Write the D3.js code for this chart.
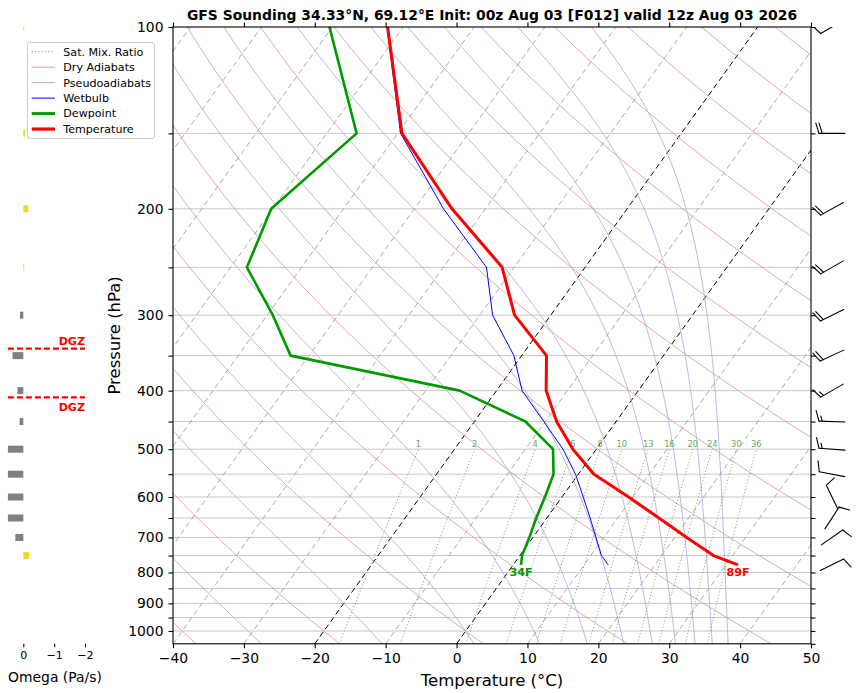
<!DOCTYPE html>
<html><head><meta charset="utf-8">
<script src="https://cdn.jsdelivr.net/npm/d3@7"></script>
<style>body{margin:0;background:#fff}svg{display:block;font-family:"DejaVu Sans",sans-serif}</style>
</head><body><svg id="c" width="857" height="693"></svg>
<script>
// ---------------- data ----------------
const pressure    = [100,150,200,250,300,350,400,450,500,550,600,650,700,750,777];
const temperature = [-72.2,-59.4,-44.7,-31.7,-25.1,-16.5,-13.0,-8.4,-3.3,2.2,9.4,15.8,21.7,27.3,31.7];
const dewpoint    = [-80.4,-65.8,-70.2,-67.7,-59.2,-52.6,-25.2,-12.8,-6.1,-3.5,-2.4,-1.5,-0.5,0.3,1.1];
const wetbulb     = [-72.3,-59.6,-45.9,-33.9,-28.2,-21.1,-16.4,-10.2,-4.7,-0.4,3.0,6.1,8.9,11.5,13.4];
const windPressure = [100,150,200,250,300,350,400,450,500,550,600,650,700,777];
const windSpeed    = [10,20,20,20,20,20,15,15,15,10,10,10,10,10];
const windDir      = [240,270,241,240,244,245,240,272,274,281,334,33,55,64];
const omegaPressure = [100,150,200,250,300,350,400,450,500,550,600,650,700,750];
const omegaValues   = [-0.03,-0.06,-0.16,-0.03,0.11,0.35,0.19,0.12,0.62,0.71,0.66,0.58,0.26,-0.19];
const mixingRatios = [1,2,4,6,8,10,13,16,20,24,30,36];
const pressureTicks = [100,200,300,400,500,600,700,800,900,1000];
const pressureMinor = [100,150,200,250,300,350,400,450,500,550,600,650,700,750,800,850,900,950,1000];
const tempTicks = [-40,-30,-20,-10,0,10,20,30,40,50];
const omegaTicks = [0,-1,-2];
const dgzBounds = [-12,-18];
const titleText = "GFS Sounding 34.33°N, 69.12°E Init: 00z Aug 03 [F012] valid 12z Aug 03 2026";

// ---------------- setup ----------------
const svg = d3.select("#c");
const X0=173, X1=811, YT=27, YB=643.8, SKEW=0.718;
const x = d3.scaleLinear().domain([-40,50]).range([X0,X1]);
const y = d3.scaleLog().domain([1050,100]).range([YB,YT]);
const sx = (T,p) => x(T) + SKEW*(YB - y(p));
const om = d3.scaleLinear().domain([0.5,-2]).range([7.9,85]);

const defs = svg.append("defs");
defs.append("clipPath").attr("id","plotclip").append("rect").attr("x",X0).attr("y",YT).attr("width",X1-X0).attr("height",YB-YT);
defs.append("clipPath").attr("id","omclip").append("rect").attr("x",7.9).attr("y",YT).attr("width",85-7.9).attr("height",YB-YT);
defs.append("clipPath").attr("id","barbclip").append("rect").attr("x",X1).attr("y",YT).attr("width",857-X1).attr("height",YB-YT);

const Rd=287.04, Cp=1005.7, Lv=2.501e6, EPS=0.622, KAPPA=Rd/Cp;
const es = T => 6.112*Math.exp(17.67*(T-273.15)/(T-29.65));
const plog = d3.range(0,121).map(i => 1050*Math.pow(100/1050, i/120));
const lineTP = d3.line().x(d=>sx(d[0],d[1])).y(d=>y(d[1]));

const bg = svg.append("g").attr("clip-path","url(#plotclip)");
// horizontal grid
bg.selectAll("line.grid").data(pressureMinor.filter(p=>p>100)).join("line")
  .attr("x1",X0).attr("x2",X1).attr("y1",d=>y(d)).attr("y2",d=>y(d))
  .attr("stroke","#c8c8c8").attr("stroke-width",1);

// isotherms
d3.range(-130,51,10).forEach(T=>{
  const black = (T===0||T===-20);
  bg.append("line").attr("x1",sx(T,1050)).attr("y1",y(1050)).attr("x2",sx(T,100)).attr("y2",y(100))
    .attr("stroke",black?"#000":"#a0a0a0").attr("stroke-width",black?1:0.9)
    .attr("stroke-dasharray","5.5,3.5");
});
// dry adiabats
d3.range(-40,321,20).forEach(th=>{
  const pts = plog.map(p=>[(th+273.15)*Math.pow(p/1000,KAPPA)-273.15,p]);
  bg.append("path").attr("d",lineTP(pts)).attr("fill","none").attr("stroke","#d99393").attr("stroke-width",0.8);
});
// pseudoadiabats (integrated downward from 100 hPa)
function dTdlnp(lnp,T){const p=Math.exp(lnp);const e=es(T);const rs=EPS*e/(p-e);
  return (Rd*T+Lv*rs)/(Cp+Lv*Lv*rs*EPS/(Rd*T*T));}
d3.range(-30,171,20).forEach(th=>{
  let T=(th+273.15)*Math.pow(0.1,KAPPA), lnp=Math.log(100);
  const n=240, h=(Math.log(1050)-lnp)/n; const pts=[[T-273.15,100]];
  for(let i=0;i<n;i++){
    const k1=dTdlnp(lnp,T),k2=dTdlnp(lnp+h/2,T+h*k1/2),k3=dTdlnp(lnp+h/2,T+h*k2/2),k4=dTdlnp(lnp+h,T+h*k3);
    T+=h*(k1+2*k2+2*k3+k4)/6; lnp+=h; pts.push([T-273.15,Math.exp(lnp)]);
  }
  bg.append("path").attr("d",lineTP(pts)).attr("fill","none").attr("stroke","#a6a6dd").attr("stroke-width",0.8);
});
// mixing ratio lines
const pmr = d3.range(0,41).map(i=>1050*Math.pow(500/1050,i/40));
mixingRatios.forEach(w=>{
  const pts = pmr.map(p=>{const e=(w/1000)*p/(EPS+w/1000);const l=Math.log(e/6.112);return [243.5*l/(17.67-l),p];});
  bg.append("path").attr("d",lineTP(pts)).attr("fill","none").attr("stroke","#3c993c").attr("stroke-opacity",0.85)
    .attr("stroke-width",0.9).attr("stroke-dasharray","1.1,2.2");
  const top = pts[pts.length-1];
  bg.append("text").attr("x",sx(top[0],500)).attr("y",y(500)-2).attr("text-anchor","middle")
    .attr("font-size","8.3px").attr("fill","#66aa66").text(w);
});

// profiles
const prof = svg.append("g").attr("clip-path","url(#plotclip)");
const mk = arr => pressure.map((p,i)=>[arr[i],p]);
prof.append("path").attr("d",lineTP(mk(wetbulb))).attr("fill","none").attr("stroke","#0000ff").attr("stroke-width",1);
prof.append("path").attr("d",lineTP(mk(dewpoint))).attr("fill","none").attr("stroke","#009900").attr("stroke-width",2.6).attr("stroke-linejoin","round");
prof.append("path").attr("d",lineTP(mk(temperature))).attr("fill","none").attr("stroke","#ff0000").attr("stroke-width",3).attr("stroke-linejoin","round");
const ns = pressure.length-1, psfc = pressure[ns];
const toF = c => Math.round(c*9/5+32)+"F";
svg.append("text").attr("x",sx(dewpoint[ns],psfc)).attr("y",y(psfc)+11).attr("text-anchor","middle")
  .attr("font-size","11.1px").attr("font-weight","bold").attr("fill","#009900").text(toF(dewpoint[ns]));
svg.append("text").attr("x",sx(temperature[ns],psfc)).attr("y",y(psfc)+11).attr("text-anchor","middle")
  .attr("font-size","11.1px").attr("font-weight","bold").attr("fill","#ff0000").text(toF(temperature[ns]));

// frame & axes
svg.append("rect").attr("x",X0).attr("y",YT).attr("width",X1-X0).attr("height",YB-YT)
  .attr("fill","none").attr("stroke","#000").attr("stroke-width",1.1);
const styleAx = g => { g.select(".domain").remove(); g.selectAll(".tick line").attr("stroke","#000").attr("stroke-width",1.1); };
svg.append("g").attr("transform",`translate(${X0},0)`)
  .call(d3.axisLeft(y).tickValues(pressureMinor).tickFormat(d=>pressureTicks.includes(d)?d:"").tickSize(4.5).tickPadding(5))
  .call(styleAx).selectAll("text").attr("font-size","13.9px").attr("font-family","DejaVu Sans").attr("fill","#000");
svg.append("g").attr("transform",`translate(${X1},0)`)
  .call(d3.axisRight(y).tickValues(pressureMinor.concat([1050])).tickFormat("").tickSize(4.5)).call(styleAx);
svg.append("g").attr("transform",`translate(0,${YB})`)
  .call(d3.axisBottom(x).tickValues(tempTicks).tickSize(4.5).tickPadding(5))
  .call(styleAx).selectAll("text").attr("font-size","13.9px").attr("font-family","DejaVu Sans").attr("fill","#000");
svg.append("g").attr("transform",`translate(0,${YT})`)
  .call(d3.axisTop(x).tickValues(tempTicks).tickFormat("").tickSize(4.5)).call(styleAx);

svg.append("text").attr("x",(X0+X1)/2).attr("y",19.5).attr("text-anchor","middle")
  .attr("font-size","13.9px").attr("font-weight","bold").text(titleText);
svg.append("text").attr("transform",`translate(120,${(YT+YB)/2}) rotate(-90)`).attr("text-anchor","middle")
  .attr("font-size","16.5px").text("Pressure (hPa)");
svg.append("text").attr("x",(X0+X1)/2).attr("y",686).attr("text-anchor","middle")
  .attr("font-size","16.5px").text("Temperature (°C)");

// omega panel
const og = svg.append("g").attr("clip-path","url(#omclip)");
og.selectAll("rect").data(omegaPressure.map((p,i)=>({p,w:omegaValues[i]}))).join("rect")
  .attr("x",d=>Math.min(om(0),om(d.w))).attr("width",d=>Math.abs(om(d.w)-om(0)))
  .attr("y",d=>y(d.p)-3.5).attr("height",7)
  .attr("fill",d=>d.w>0?"#808080":"#f7d51d");
svg.append("g").attr("transform",`translate(0,${YB})`)
  .call(d3.axisBottom(om).tickValues(omegaTicks).tickFormat(d3.format("d")).tickSize(3.5).tickPadding(4))
  .call(styleAx).selectAll("text").attr("font-size","11.1px").attr("font-family","DejaVu Sans").attr("fill","#000");
svg.append("text").attr("x",55).attr("y",682).attr("text-anchor","middle").attr("font-size","13.9px").text("Omega (Pa/s)");

// DGZ from temperature profile
function crossP(Tc){
  for(let i=0;i<pressure.length-1;i++){
    const a=temperature[i], b=temperature[i+1];
    if((a-Tc)*(b-Tc)<=0 && a!==b){const f=(Tc-a)/(b-a);
      return Math.exp(Math.log(pressure[i])+f*(Math.log(pressure[i+1])-Math.log(pressure[i])));}
  }
  return null;
}
const pWarm = crossP(dgzBounds[0]), pCold = crossP(dgzBounds[1]);
[[pCold,-4],[pWarm,14]].forEach(([p,dy])=>{
  svg.append("line").attr("x1",om(0.5)).attr("x2",om(-2)).attr("y1",y(p)).attr("y2",y(p))
    .attr("stroke","#ff0000").attr("stroke-width",2.2).attr("stroke-dasharray","6,3");
  svg.append("text").attr("x",85).attr("y",y(p)+dy).attr("text-anchor","end").attr("font-size","11.1px")
    .attr("font-weight","bold").attr("fill","#ff0000").text("DGZ");
});

// wind barbs
const bgp = svg.append("g").attr("clip-path","url(#barbclip)");
const BX = 832;
function barb(cx,cy,spd,dir){
  const L=26, sp=L*0.125, fh=L*0.4, fw=L*0.25;
  let s=Math.round(spd/5)*5; const nf=Math.floor(s/50); s-=nf*50; const nb=Math.floor(s/10); s-=nb*10; const half=s>=5;
  const endy=-L/2; const segs=[[[0,endy],[0,endy+L]]]; const polys=[]; let off=L;
  for(let i=0;i<nf;i++){ if(off!==L) off+=sp/2; polys.push([[0,endy+off],[fh,endy-fw/2+off],[0,endy-fw+off]]); off-=fw+sp; }
  for(let i=0;i<nb;i++){ segs.push([[0,endy+off],[fh,endy+off+fw/2]]); off-=sp; }
  if(half){ if(off===L) off-=1.5*sp; segs.push([[0,endy+off],[fh/2,endy+off+fw/4]]); }
  const r=dir*Math.PI/180, d=[Math.sin(r),Math.cos(r)], e=[d[1],-d[0]];
  const tr = ([lx,ly]) => [cx+lx*e[0]+ly*d[0], cy-(lx*e[1]+ly*d[1])];
  segs.forEach(sg=>{const a=tr(sg[0]), b=tr(sg[1]);
    bgp.append("line").attr("x1",a[0]).attr("y1",a[1]).attr("x2",b[0]).attr("y2",b[1]).attr("stroke","#000").attr("stroke-width",1.1).attr("stroke-linecap","round");});
  polys.forEach(pg=>{bgp.append("polygon").attr("points",pg.map(tr).map(q=>q.join(",")).join(" ")).attr("fill","#000");});
}
windPressure.forEach((p,i)=>barb(BX,y(p),windSpeed[i],windDir[i]));

// legend
const lg = svg.append("g");
lg.append("rect").attr("x",27.5).attr("y",42.5).attr("width",127).attr("height",96).attr("rx",2.5)
  .attr("fill","#fff").attr("fill-opacity",0.8).attr("stroke","#cccccc");
const legendItems = [
  {t:"Sat. Mix. Ratio", c:"#3c993c", w:0.9, dash:"1.1,2.2"},
  {t:"Dry Adiabats", c:"#d99393", w:0.9},
  {t:"Pseudoadiabats", c:"#a6a6dd", w:0.9},
  {t:"Wetbulb", c:"#0000ff", w:1},
  {t:"Dewpoint", c:"#009900", w:3},
  {t:"Temperature", c:"#ff0000", w:3.2}
];
legendItems.forEach((it,i)=>{
  const yy = 51.7 + i*15.47;
  lg.append("line").attr("x1",31.7).attr("x2",55).attr("y1",yy).attr("y2",yy).attr("stroke",it.c)
    .attr("stroke-width",it.w).attr("stroke-dasharray",it.dash||null);
  lg.append("text").attr("x",63.3).attr("y",yy).attr("dy","0.35em").attr("font-size","11.1px").text(it.t);
});
</script></body></html>
